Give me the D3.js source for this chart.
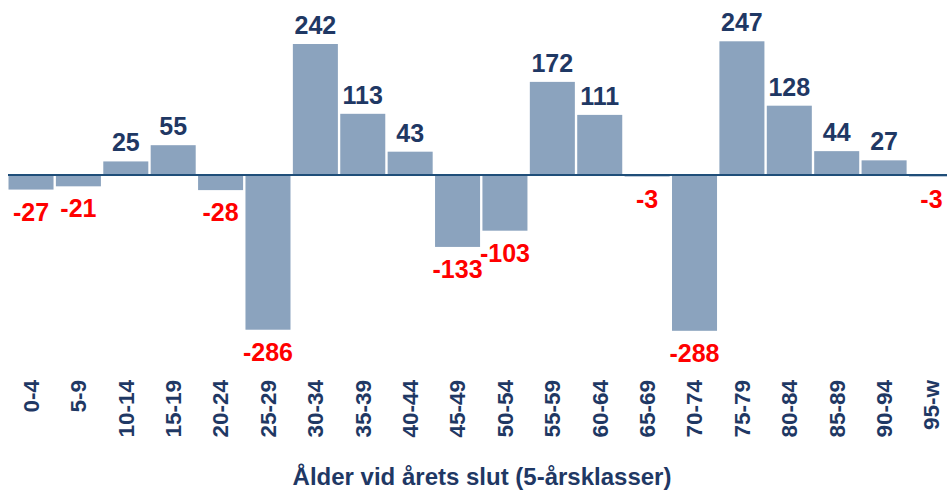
<!DOCTYPE html>
<html><head><meta charset="utf-8">
<script src="https://cdn.jsdelivr.net/npm/d3@7"></script>
<style>body{margin:0;background:#fff}svg{display:block}</style>
</head><body>
<svg id="c" width="947" height="490"></svg>
<script>
const categories = ["0-4","5-9","10-14","15-19","20-24","25-29","30-34","35-39","40-44","45-49","50-54","55-59","60-64","65-69","70-74","75-79","80-84","85-89","90-94","95-w"];
const values = [-27,-21,25,55,-28,-286,242,113,43,-133,-103,172,111,-3,-288,247,128,44,27,-3];
const axisTitle = "Ålder vid årets slut (5-årsklasser)";

const svg = d3.select("#c");
const font = "'Liberation Sans', Arial, sans-serif";
const navy = "#1f3864";
const x = d3.scaleBand().domain(categories).range([8.5, 954]).paddingInner(0.05).paddingOuter(0);
const y = d3.scaleLinear().domain([-288, 247]).range([330.8, 41.3]);

svg.selectAll("rect.bar").data(values).join("rect")
  .attr("class","bar")
  .attr("x",(d,i)=>x(categories[i]))
  .attr("width",x.bandwidth())
  .attr("y",d=>y(Math.max(0,d)))
  .attr("height",d=>Math.abs(y(d)-y(0)))
  .attr("fill","#8ba3be");

svg.append("line").attr("x1",8).attr("x2",947).attr("y1",y(0)).attr("y2",y(0))
  .attr("stroke","#1f4e79").attr("stroke-width",2);

svg.selectAll("text.val").data(values).join("text")
  .attr("class","val")
  .attr("x",(d,i)=>x(categories[i])+x.bandwidth()/2)
  .attr("y",d=> d>=0 ? y(d)-10 : y(d)+31)
  .attr("text-anchor","middle")
  .style("font-family",font).style("font-weight","bold").style("font-size","25px")
  .attr("fill",d=>d>=0?navy:"#ff0000")
  .text(d=>d);

const ax = svg.append("g").attr("transform",`translate(0,380)`)
  .call(d3.axisBottom(x).tickSize(0).tickPadding(0));
ax.select(".domain").remove();
ax.selectAll("text")
  .style("font-family",font).style("font-weight","bold").style("font-size","22.5px")
  .attr("fill",navy)
  .attr("text-anchor","end")
  .attr("transform","rotate(-90)")
  .attr("x",0).attr("y",0).attr("dx",0).attr("dy","0.35em");

svg.append("text").attr("x",482).attr("y",485).attr("text-anchor","middle")
  .style("font-family",font).style("font-weight","bold").style("font-size","24px")
  .attr("fill",navy).text(axisTitle);
</script>
</body></html>
